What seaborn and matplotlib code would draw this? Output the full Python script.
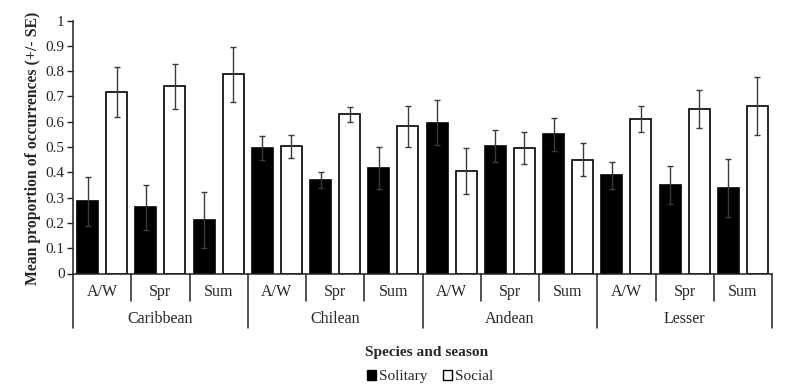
import matplotlib
matplotlib.use("Agg")
import matplotlib.pyplot as plt
import matplotlib.transforms as mtransforms
from matplotlib.lines import Line2D
import seaborn as sns
import pandas as pd

species = ["Caribbean", "Chilean", "Andean", "Lesser"]
seasons = ["A/W", "Spr", "Sum"]
groups = ["Solitary", "Social"]

solitary_mean = [0.285, 0.262, 0.211, 0.496, 0.371, 0.417, 0.596, 0.503, 0.550, 0.388, 0.350, 0.339]
solitary_se = [0.097, 0.089, 0.110, 0.047, 0.032, 0.083, 0.088, 0.063, 0.065, 0.053, 0.075, 0.115]
social_mean = [0.716, 0.741, 0.787, 0.503, 0.629, 0.582, 0.405, 0.495, 0.450, 0.611, 0.650, 0.662]
social_se = [0.099, 0.089, 0.110, 0.045, 0.030, 0.082, 0.090, 0.063, 0.065, 0.051, 0.074, 0.116]

y_ticks = [0, 0.1, 0.2, 0.3, 0.4, 0.5, 0.6, 0.7, 0.8, 0.9, 1.0]
y_ticklabels = ["0", "0.1", "0.2", "0.3", "0.4", "0.5", "0.6", "0.7", "0.8", "0.9", "1"]

cats = [f"{sp} {se}" for sp in species for se in seasons]
rows = []
for i, c in enumerate(cats):
    rows.append({"cat": c, "group": "Solitary", "value": solitary_mean[i], "se": solitary_se[i]})
    rows.append({"cat": c, "group": "Social", "value": social_mean[i], "se": social_se[i]})
df = pd.DataFrame(rows)

sns.set_style("white")
plt.rcParams["font.family"] = ["Liberation Serif", "DejaVu Serif"]

fig = plt.figure(figsize=(8, 3.89), dpi=100)
ax = fig.add_axes([73 / 800, (389 - 273.5) / 389, (772 - 73) / 800, 253 / 389])

sns.barplot(data=df, x="cat", y="value", hue="group", order=cats, hue_order=groups,
            palette={"Solitary": "black", "Social": "white"}, edgecolor="black",
            linewidth=1.2, width=1.0, gap=0.28, errorbar=None, legend=False, ax=ax)

se_by_group = {"Solitary": solitary_se, "Social": social_se}
for cont, g in zip(ax.containers, groups):
    xs = [p.get_x() + p.get_width() / 2 for p in cont]
    hs = [p.get_height() for p in cont]
    ax.errorbar(xs, hs, yerr=se_by_group[g], fmt="none", ecolor="#3a3a3a",
                elinewidth=1.0, capsize=2.5, capthick=1.0, zorder=5)

ax.set_xlim(-0.5, len(cats) - 0.5)
ax.set_ylim(0, 1)
ax.set_yticks(y_ticks)
ax.set_yticklabels(y_ticklabels, fontsize=11)
ax.tick_params(axis="y", direction="out", length=4, width=1, color="#222", pad=2, left=True)
ax.tick_params(axis="x", length=0, labelbottom=False)
ax.set_xlabel("")
ax.set_ylabel("")
for s in ["top", "right"]:
    ax.spines[s].set_visible(False)
for s in ["left", "bottom"]:
    ax.spines[s].set_color("#222")
    ax.spines[s].set_linewidth(1.1)

trans = mtransforms.blended_transform_factory(ax.transData, ax.transAxes)
season_bottom = -0.109
species_bottom = -0.215
n = len(cats)
for b in range(n + 1):
    xb = b - 0.5
    yb = species_bottom if b % 3 == 0 else season_bottom
    ax.add_line(Line2D([xb, xb], [0, yb], transform=trans, color="#222", lw=1.1, clip_on=False))
for i, c in enumerate(cats):
    ax.text(i, -0.072, seasons[i % 3], transform=trans, ha="center", va="center", fontsize=11.5)
for j, sp in enumerate(species):
    ax.text(j * 3 + 1, -0.18, sp, transform=trans, ha="center", va="center", fontsize=11.5)

fig.text(33 / 800, (389 - 148) / 389, "Mean proportion of occurrences (+/- SE)", rotation=90,
         ha="center", va="center", fontsize=11.3, fontweight="bold")
fig.text(427 / 800, (389 - 352.7) / 389, "Species and season", ha="center", va="center",
         fontsize=11.1, fontweight="bold")

handles = [plt.Rectangle((0, 0), 1, 1, facecolor="black", edgecolor="black", lw=1),
           plt.Rectangle((0, 0), 1, 1, facecolor="white", edgecolor="black", lw=1)]
fig.legend(handles, groups, loc="center", bbox_to_anchor=(430 / 800, (389 - 376.7) / 389),
           ncol=2, frameon=False, fontsize=11, handlelength=0.6, handleheight=0.6,
           handletextpad=0.2, columnspacing=1.0, borderaxespad=0, borderpad=0)

fig.savefig("out.png", dpi=100)
